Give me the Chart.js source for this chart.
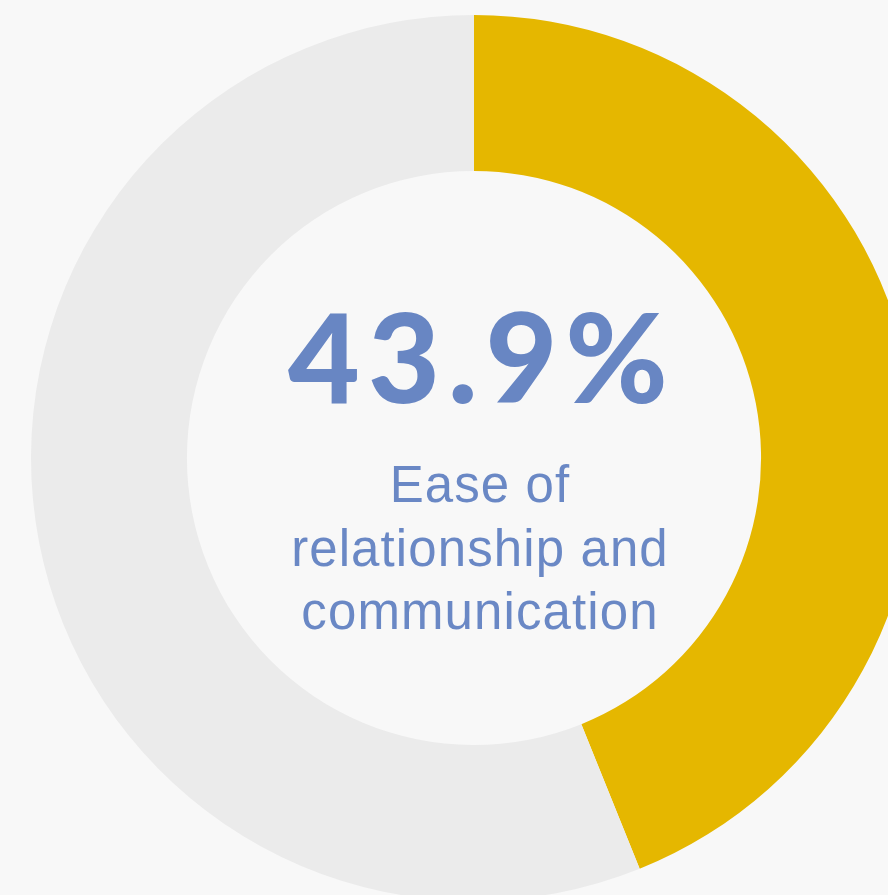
<!DOCTYPE html>
<html lang="en">

<head>
    <title>Ease of relationship and communication</title>
    <meta charset="utf-8" />
    <script src="https://cdn.jsdelivr.net/npm/chart.js"></script>
    <style>
        html, body {
            margin: 0;
            padding: 0;
            width: 888px;
            height: 895px;
            overflow: hidden;
            background: #f8f8f8;
        }

        #wrap {
            position: absolute;
            left: 31px;
            top: 15px;
            width: 886px;
            height: 886px;
        }

        .big {
            position: absolute;
            left: 0;
            width: 964px;
            top: 293px;
            text-align: center;
            font-family: Lato, sans-serif;
            font-weight: 900;
            font-size: 124px;
            line-height: 124px;
            letter-spacing: 8px;
            color: #6886c3;
        }

        .sub {
            position: absolute;
            left: 0;
            width: 960px;
            top: 453px;
            text-align: center;
            font-family: "Liberation Sans", Arial, sans-serif;
            font-size: 51px;
            line-height: 63.5px;
            letter-spacing: 1.1px;
            color: #6a88c5;
        }
    </style>
</head>

<body>
    <div id="wrap">
        <canvas id="grafico"></canvas>
    </div>
    <div class="big" id="valor"></div>
    <div class="sub">Ease of<br>relationship and<br>communication</div>

    <script>
        const etiquetas = ["Ease of relationship and communication", "Other"];
        const valores = [43.9, 56.1];
        const colores = ["#e5b700", "#ebebeb"];

        document.getElementById("valor").textContent = valores[0] + "%";

        const ctx = document.getElementById("grafico").getContext("2d");
        const grafico = new Chart(ctx, {
            type: "doughnut",
            data: {
                labels: etiquetas,
                datasets: [{
                    data: valores,
                    backgroundColor: colores,
                    borderWidth: 0,
                    hoverOffset: 0,
                    offset: 0
                }]
            },
            options: {
                responsive: true,
                maintainAspectRatio: false,
                animation: false,
                cutout: "64.8%",
                layout: { padding: 0 },
                plugins: {
                    legend: { display: false },
                    tooltip: { enabled: false }
                }
            }
        });
    </script>
</body>

</html>
